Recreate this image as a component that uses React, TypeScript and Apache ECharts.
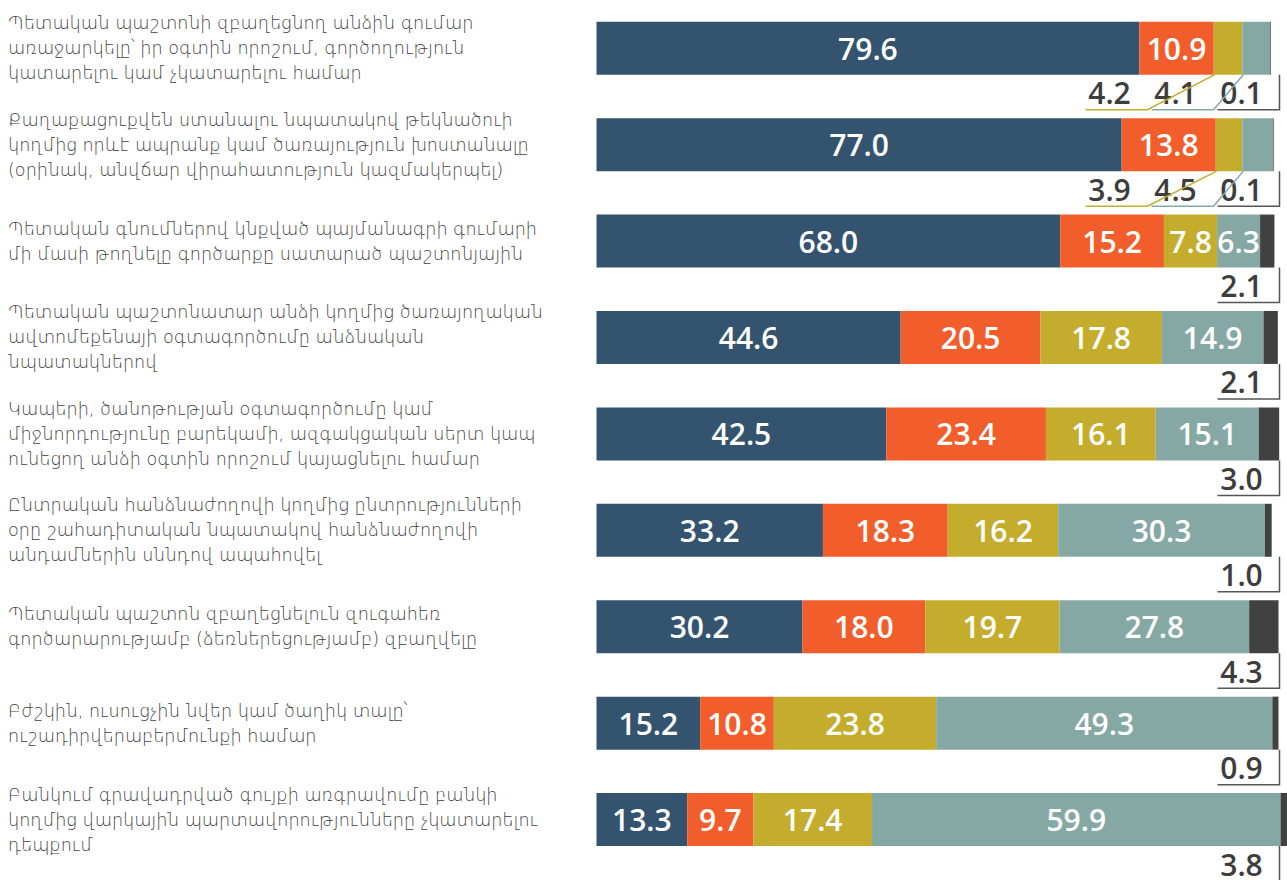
import React, { useEffect, useRef } from "react";
import * as echarts from "echarts";

const categories = [
  "Պետական պաշտոնի զբաղեցնող անձին գումար\nառաջարկելը՝ իր օգտին որոշում, գործողություն\nկատարելու կամ չկատարելու համար",
  "Քաղաքացուքվեն ստանալու նպատակով թեկնածուի\nկողմից որևէ ապրանք կամ ծառայություն խոստանալը\n(օրինակ, անվճար վիրահատություն կազմակերպել)",
  "Պետական գնումներով կնքված պայմանագրի գումարի\nմի մասի թողնելը գործարքը սատարած պաշտոնյային",
  "Պետական պաշտոնատար անձի կողմից ծառայողական\nավտոմեքենայի օգտագործումը անձնական\nնպատակներով",
  "Կապերի, ծանոթության օգտագործումը կամ\nմիջնորդությունը բարեկամի, ազգակցական սերտ կապ\nունեցող անձի օգտին որոշում կայացնելու համար",
  "Ընտրական հանձնաժողովի կողմից ընտրությունների\nօրը շահադիտական նպատակով հանձնաժողովի\nանդամներին սննդով ապահովել",
  "Պետական պաշտոն զբաղեցնելուն զուգահեռ\nգործարարությամբ (ձեռներեցությամբ) զբաղվելը",
  "Բժշկին, ուսուցչին նվեր կամ ծաղիկ տալը՝\nուշադիրվերաբերմունքի համար",
  "Բանկում գրավադրված գույքի առգրավումը բանկի\nկողմից վարկային պարտավորությունները չկատարելու\nդեպքում",
];

const blueValues = [79.6, 77.0, 68.0, 44.6, 42.5, 33.2, 30.2, 15.2, 13.3];
const orangeValues = [10.9, 13.8, 15.2, 20.5, 23.4, 18.3, 18.0, 10.8, 9.7];
const yellowValues = [4.2, 3.9, 7.8, 17.8, 16.1, 16.2, 19.7, 23.8, 17.4];
const tealValues = [4.1, 4.5, 6.3, 14.9, 15.1, 30.3, 27.8, 49.3, 59.9];
const darkValues = [0.1, 0.1, 2.1, 2.1, 3.0, 1.0, 4.3, 0.9, 3.8];

const COLORS = ["#33536f", "#f15e2c", "#c4ad2d", "#85a8a5", "#414141"];
const NUM_FONT = "'Open Sans', 'Noto Sans', sans-serif";
const TXT_FONT = "'DejaVu Sans', sans-serif";
const BAR_W = 53;
const INSIDE_MIN = 5;

export default function App() {
  const ref = useRef<HTMLDivElement>(null);

  useEffect(() => {
    if (!ref.current) return;
    const chart = echarts.init(ref.current, null, { renderer: "svg" });

    const all = [blueValues, orangeValues, yellowValues, tealValues, darkValues];

    const barSeries = all.map((vals, si) => ({
      type: "bar",
      name: "s" + si,
      stack: "total",
      barWidth: BAR_W,
      clip: false,
      data: vals,
      itemStyle: { color: COLORS[si] },
      label: {
        show: si < 4,
        position: "inside",
        color: "#ffffff",
        fontSize: 30,
        fontWeight: 600,
        fontFamily: NUM_FONT,
        formatter: (p: any) => (p.value >= INSIDE_MIN ? Number(p.value).toFixed(1) : ""),
      },
    }));

    const outsideSeries = {
      type: "custom",
      coordinateSystem: "cartesian2d",
      silent: true,
      z: 10,
      encode: { x: 0, y: 1 },
      data: categories.map((_, i) => [0, i]),
      renderItem: (params: any, api: any) => {
        const i = api.value(1);
        const yc = api.coord([0, i])[1];
        const bottom = yc + BAR_W / 2;
        const right = api.coord([100, i])[0];
        const xr = right + 1;
        const textY = bottom + 18;
        const lineY = bottom + 35;
        const children: any[] = [];
        const textStyle = (txt: string, x: number) => ({
          type: "text",
          style: {
            text: txt,
            x,
            y: textY,
            align: "center",
            verticalAlign: "middle",
            fill: "#3d3d3d",
            fontSize: 30,
            lineHeight: 26,
            fontWeight: 600,
            fontFamily: NUM_FONT,
          },
        });
        children.push({
          type: "polyline",
          shape: { points: [[xr - 62, lineY], [xr, lineY], [xr, bottom]] },
          style: { stroke: "#555555", lineWidth: 1.5, fill: null },
        });
        children.push(textStyle(darkValues[i].toFixed(1), xr - 38));
        const smalls = [
          { v: tealValues[i], start: blueValues[i] + orangeValues[i] + yellowValues[i], color: COLORS[3] },
          { v: yellowValues[i], start: blueValues[i] + orangeValues[i], color: COLORS[2] },
        ];
        let slot = 1;
        smalls.forEach((s) => {
          if (s.v >= INSIDE_MIN) return;
          const r = xr - 66 * slot;
          const l = r - 62;
          const sx = api.coord([s.start, i])[0] + 1;
          children.push({
            type: "polyline",
            shape: { points: [[l, lineY], [r, lineY], [sx, bottom]] },
            style: { stroke: s.color, lineWidth: 1.5, fill: null },
          });
          children.push(textStyle(s.v.toFixed(1), l + 24));
          slot++;
        });
        return { type: "group", children };
      },
    };

    chart.setOption({
      animation: false,
      grid: { left: 596.5, right: 8.5, top: -0.75, height: 868.5, containLabel: false },
      xAxis: { type: "value", min: 0, max: 100, show: false },
      yAxis: {
        type: "category",
        data: categories,
        inverse: true,
        axisLine: { show: false },
        axisTick: { show: false },
        splitLine: { show: false },
        axisLabel: {
          align: "left",
          margin: 588.5,
          fontSize: 17.6,
          fontWeight: 300,
          lineHeight: 25,
          color: "#3f3f3f",
          fontFamily: TXT_FONT,
        },
      },
      series: [...barSeries, outsideSeries],
    });

    return () => chart.dispose();
  }, []);

  return (
    <div
      ref={ref}
      style={{ position: "fixed", left: 0, top: 0, width: 1287, height: 880, background: "#ffffff" }}
    />
  );
}
